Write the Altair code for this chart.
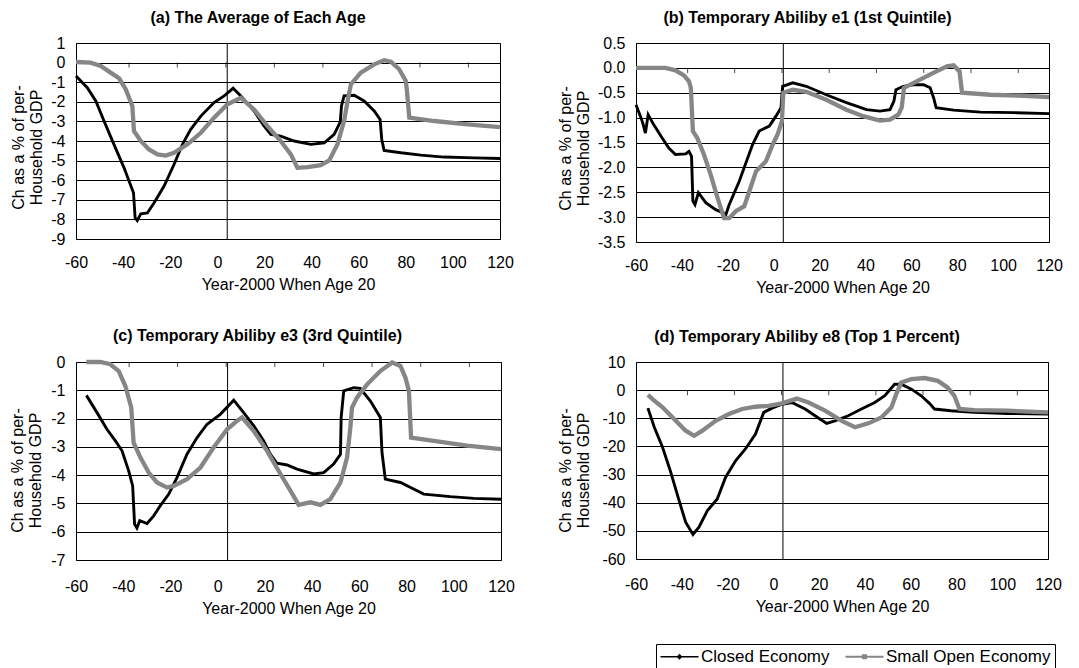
import altair as alt
import pandas as pd

FONT = "Liberation Sans"
SERIES = ["Closed Economy", "Small Open Economy"]
COLORS = ["#000000", "#868686"]
X_TITLE = "Year-2000 When Age 20"
Y_TITLE = ["Ch as a % of per-", "Household GDP"]
X_TICKS = [-60, -40, -20, 0, 20, 40, 60, 80, 100, 120]
Y_CROSS_X = 4.2
MINOR_TICKS = [-37.5, -17.0, 3.6, 24.2, 44.8, 65.4, 86.0, 106.6]

TITLES = [
    "(a) The Average of Each Age",
    "(b) Temporary Abiliby e1 (1st Quintile)",
    "(c) Temporary Abiliby e3 (3rd Quintile)",
    "(d) Temporary Abiliby e8 (Top 1 Percent)",
]

# ---- panel (a)
ax_c = [-60, -55.2, -51.6, -48.1, -43.9, -39.6, -35.6, -34.9, -34, -32.5, -29.7, -26.9, -22.6, -18.4,
        -14.8, -11.3, -7, -1.4, 2.9, 6.7, 10, 15.6, 19.9, 22.7, 26.9, 32.6, 39.7, 45.4, 49.6, 52.2,
        52.7, 53.8, 58.1, 62.3, 66.6, 69.1, 69.8, 70.8, 77.9, 86.4, 96.3, 109.1, 120]
ay_c = [-0.68, -1.28, -1.96, -2.98, -4.17, -5.37, -6.64, -7.92, -8.06, -7.72, -7.67, -7.16, -6.3, -5.2,
        -4.17, -3.4, -2.73, -2.04, -1.7, -1.31, -1.7, -2.47, -3.24, -3.66, -3.75, -4.0, -4.17, -4.09,
        -3.66, -3.02, -2.21, -1.70, -1.67, -1.96, -2.47, -2.90, -3.92, -4.48, -4.6, -4.72, -4.82, -4.86,
        -4.89]
ax_o = [-60, -53.8, -49.5, -45.3, -41.7, -38.9, -36.1, -35.4, -32.5, -29, -25.4, -21.9, -18.4, -12.7,
        -7, -1.4, 4.3, 10, 15.6, 21.3, 26.9, 31.2, 34, 38.3, 43.9, 47.5, 51, 53.8, 55.3, 56.7, 60.9,
        66.6, 70.8, 73.7, 77.2, 80, 80.5, 81.5, 92.1, 106.2, 120]
ay_o = [0.03, 0, -0.17, -0.51, -0.8, -1.36, -2.21, -3.49, -4.0, -4.43, -4.68, -4.74, -4.6, -4.17,
        -3.58, -2.81, -2.13, -1.8, -2.39, -3.24, -4.0, -4.68, -5.37, -5.33, -5.23, -4.99, -4.17, -2.98,
        -1.96, -1.11, -0.51, -0.09, 0.12, 0.05, -0.34, -0.94, -1.45, -2.81, -2.98, -3.15, -3.29]

# ---- panel (b)
bx_c = [-60, -58.1, -57.1, -55.9, -54.7, -52.3, -48.6, -45.7, -42.8, -38.4, -36.9, -35.8, -35.2, -34.3,
        -32.8, -29.6, -25.3, -21.6, -20.9, -19.4, -15, -9.2, -6.3, -1.9, 1, 3.2, 3.9, 8.3, 14.2, 22.9,
        31.7, 40.5, 46.3, 50.7, 52.4, 53.3, 56.5, 60.9, 65.3, 68.2, 69.7, 70.8, 78.4, 90.1, 104.7, 120]
by_c = [-0.74, -0.97, -1.1, -1.31, -0.94, -1.14, -1.41, -1.61, -1.74, -1.73, -1.68, -1.78, -2.68, -2.75,
        -2.51, -2.71, -2.85, -2.92, -2.96, -2.75, -2.28, -1.54, -1.27, -1.17, -0.97, -0.8, -0.37, -0.30,
        -0.37, -0.54, -0.70, -0.84, -0.87, -0.84, -0.67, -0.44, -0.37, -0.34, -0.34, -0.40, -0.60,
        -0.80, -0.85, -0.89, -0.9, -0.92]
bx_o = [-60, -47.2, -42.8, -39.1, -36.9, -36.1, -35.2, -33.3, -30.4, -27.5, -24.5, -21.6, -19.4, -16.5,
        -12.8, -10.6, -7.7, -3.4, -0.4, 1.7, 3.6, 4.2, 8.3, 14.2, 22.9, 31.7, 39, 46.3, 50.7, 54.3, 55.8,
        56.8, 62.3, 69.6, 75.5, 78.4, 81, 82.1, 94.5, 109.1, 120]
by_o = [0, 0, -0.05, -0.15, -0.27, -0.40, -1.27, -1.41, -1.74, -2.14, -2.61, -3.02, -3.02, -2.88,
        -2.78, -2.48, -2.08, -1.88, -1.54, -1.34, -1.07, -0.5, -0.44, -0.48, -0.64, -0.84, -0.97, -1.06,
        -1.04, -0.94, -0.8, -0.4, -0.27, -0.10, 0.03, 0.05, -0.07, -0.5, -0.54, -0.56, -0.59]

# ---- panel (c)
cx_c = [-55.6, -51.1, -46.9, -43.3, -40.5, -37.7, -36, -35.2, -34.2, -33, -29.9, -27.1, -24.3, -20.7,
        -17.2, -13, -8.7, -4.5, 1.1, 6.8, 11, 15.3, 19.5, 22.3, 25.1, 29.4, 33.6, 40.7, 44.9, 49.1, 52,
        52.3, 53.4, 57.6, 60.4, 64.7, 68.9, 69.6, 71, 77.4, 83, 87.3, 98.6, 108.5, 120]
cy_c = [-1.18, -1.79, -2.38, -2.79, -3.14, -3.85, -4.38, -5.73, -5.87, -5.61, -5.71, -5.44, -5.08,
        -4.67, -4.08, -3.26, -2.67, -2.2, -1.85, -1.35, -1.79, -2.26, -2.79, -3.26, -3.58, -3.64, -3.79,
        -3.96, -3.91, -3.61, -3.26, -1.96, -1.02, -0.91, -0.93, -1.38, -1.96, -3.2, -4.14, -4.26, -4.49,
        -4.67, -4.76, -4.82, -4.85]
cx_o = [-55.6, -49.7, -45.5, -41.9, -39.1, -36.6, -35.6, -32.7, -29.2, -25.7, -21.4, -18.6, -13, -7.3,
        -1.7, 4, 8.2, 10.3, 15.3, 20.9, 26.6, 30.8, 34.3, 39.3, 43.5, 47.7, 52, 54.8, 56.2, 56.9, 59,
        63.3, 68.9, 73.9, 77.4, 79.5, 81, 81.9, 91.5, 105.6, 120]
cy_o = [0.0, 0, -0.08, -0.32, -0.85, -1.61, -2.85, -3.38, -3.91, -4.26, -4.44, -4.38, -4.14, -3.73,
        -3.02, -2.38, -2.08, -1.96, -2.44, -3.14, -3.96, -4.55, -5.05, -4.96, -5.05, -4.85, -4.26, -3.38,
        -2.32, -1.61, -1.26, -0.79, -0.32, -0.02, -0.14, -0.55, -1.02, -2.67, -2.79, -2.96, -3.08]

# ---- panel (d)
dx_c = [-54.8, -52, -48.4, -44.8, -41.2, -38.3, -35.1, -32.5, -28.8, -24.5, -20.9, -16.5, -12.2, -7.8,
        -4.2, -0.6, 3.8, 8.1, 13.9, 19.7, 23.3, 26.9, 32.7, 38.5, 44.3, 48.7, 53, 55.9, 60.3, 64.6, 68.2,
        70.4, 77.6, 87.8, 102.3, 120]
dy_c = [-6.4, -13.2, -20.3, -29.2, -39.2, -46.9, -51.3, -48.7, -42.8, -38.7, -31, -25.1, -20.9, -15.6,
        -7.9, -6.4, -5, -4.4, -6.7, -9.9, -11.8, -10.9, -9.1, -6.7, -4.4, -2.0, 2.1, 2.1, 0.35, -2.0,
        -4.7, -6.7, -7.3, -7.9, -8.3, -8.5]
dx_o = [-54.8, -52.8, -48.4, -42.6, -38.3, -34.6, -31, -25.2, -19.4, -13.6, -7.8, -2, 3.8, 10.3, 15.4,
        22.6, 29.9, 35.7, 41.5, 47.2, 51.6, 53.7, 55.9, 60.3, 66.1, 71.9, 76.2, 79.1, 81.3, 87.8, 102.3,
        120]
dy_o = [-1.7, -3.2, -6.1, -10.9, -14.4, -16.2, -14.4, -10.9, -8.5, -6.7, -5.9, -5.6, -4.7, -3.0, -4.4,
        -7.3, -10.9, -13.2, -11.8, -9.7, -6.1, -1.4, 2.7, 3.9, 4.3, 3.3, 0.9, -2.0, -6.7, -7.1, -7.3,
        -7.9]

Y_A = [1, 0, -1, -2, -3, -4, -5, -6, -7, -8, -9]
Y_B = [0.5, 0.0, -0.5, -1.0, -1.5, -2.0, -2.5, -3.0, -3.5]
Y_C = [0, -1, -2, -3, -4, -5, -6, -7]
Y_D = [10, 0, -10, -20, -30, -40, -50, -60]

# legend symbols: a short line with a marker (diamond / square)
SHAPES = [
    "M-1,-0.08H3.75V0.08H-1Z M1.375,-0.36L1.735,0L1.375,0.36L1.015,0Z",
    "M-1,-0.11H3.75V0.11H-1Z M1.055,-0.32H1.695V0.32H1.055Z",
]

cscale = alt.Scale(domain=SERIES, range=COLORS)
shscale = alt.Scale(domain=SERIES, range=SHAPES)

LEG = alt.Legend(title=None, orient="none", legendX=580, legendY=601, direction="horizontal",
                 symbolSize=256, symbolStrokeWidth=0, symbolOpacity=1, labelOffset=24,
                 columnPadding=15, padding=4, strokeColor="#000000", labelFont=FONT,
                 labelFontSize=17, labelColor="#000000", labelLimit=0)


def fmt_expr(f):
    return "replace(format(datum.value, '" + f + "'), '\u2212', '-')"


def panel(title, xc, yc, xo, yo, ydom, yvals, yfmt, w, h, tdx, ytx, yty, lpad, tick_y):
    df_c = pd.DataFrame({"x": xc, "y": yc, "series": SERIES[0]})
    df_o = pd.DataFrame({"x": xo, "y": yo, "series": SERIES[1]})
    xs = alt.Scale(domain=[-60, 120], nice=False, zero=False)
    ys = alt.Scale(domain=[ydom[0], ydom[1]], nice=False, zero=False)
    xaxis = alt.Axis(values=X_TICKS, tickCount=len(X_TICKS), grid=False, ticks=False, tickSize=0,
                     domain=False, labelPadding=lpad, labelExpr=fmt_expr("d"), labelFlush=False,
                     labelOverlap=False, title=X_TITLE, titlePadding=6,
                     labelFont=FONT, labelFontSize=16, labelColor="#000000",
                     titleFont=FONT, titleFontSize=16, titleFontWeight="normal", titleColor="#000000")
    yaxis = alt.Axis(values=yvals, tickCount=len(yvals), grid=True, gridColor="#000000", gridWidth=1,
                     ticks=False, tickSize=0, domain=False, labelPadding=11,
                     labelExpr=fmt_expr(yfmt), labelFlush=False, labelOverlap=False,
                     title=Y_TITLE, titleX=ytx, titleY=yty,
                     titleAngle=-90, titleAlign="center", titleBaseline="top", titleLineHeight=18,
                     labelFont=FONT, labelFontSize=16, labelColor="#000000",
                     titleFont=FONT, titleFontSize=16, titleFontWeight="normal", titleColor="#000000")
    X = alt.X("x:Q", scale=xs, axis=xaxis)
    Y = alt.Y("y:Q", scale=ys, axis=yaxis)
    C = alt.Color("series:N", scale=cscale, legend=LEG)
    S = alt.Shape("series:N", scale=shscale, legend=LEG)

    cross = alt.Chart(pd.DataFrame({"x": [Y_CROSS_X]})).mark_rule(
        color="#000000", strokeWidth=1).encode(x=X)
    ticks = alt.Chart(pd.DataFrame({"x": MINOR_TICKS, "y": [tick_y] * len(MINOR_TICKS)})).mark_tick(
        orient="vertical", size=5, thickness=1, yOffset=2.5, color="#000000").encode(x=X, y=Y)
    line_c = alt.Chart(df_c).mark_line(strokeWidth=2.9).encode(x=X, y=Y, color=C)
    line_o = alt.Chart(df_o).mark_line(strokeWidth=4.3).encode(x=X, y=Y, color=C)
    keys = alt.Chart(pd.concat([df_c, df_o])).transform_filter("false").mark_point(
        filled=True, opacity=1).encode(x=X, y=Y, color=C, shape=S)
    return alt.layer(cross, ticks, line_c, line_o, keys).properties(
        width=w, height=h,
        title=alt.TitleParams(title, anchor="middle", frame="group", dx=tdx, offset=-7,
                              baseline="bottom", font=FONT, fontSize=16, fontWeight="bold",
                              color="#000000"))


pa = panel(TITLES[0], ax_c, ay_c, ax_o, ay_o, (-9, 1), Y_A, "d", 424, 196, -30, -66, 104, 15, 0)
pb = panel(TITLES[1], bx_c, by_c, bx_o, by_o, (-3.5, 0.5), Y_B, ".1f", 413, 199, -35, -79, 105, 15, 0)
pc = panel(TITLES[2], cx_c, cy_c, cx_o, cy_o, (-7, 0), Y_C, "d", 425, 198, -31, -67, 108, 18, 0)
pd_ = panel(TITLES[3], dx_c, dy_c, dx_o, dy_o, (-60, 10), Y_D, "d", 412, 197, -35, -79, 108, 17, 0)

chart = alt.concat(pa, pb, pc, pd_, columns=2, spacing={"row": 120, "column": 135},
                   bounds="flush").properties(
    padding={"left": 8, "top": 9, "right": 5, "bottom": 2}, background="#ffffff"
).configure_view(stroke="#000000", strokeWidth=1)

chart.save("out.html", embed_options={"renderer": "svg", "actions": False})
